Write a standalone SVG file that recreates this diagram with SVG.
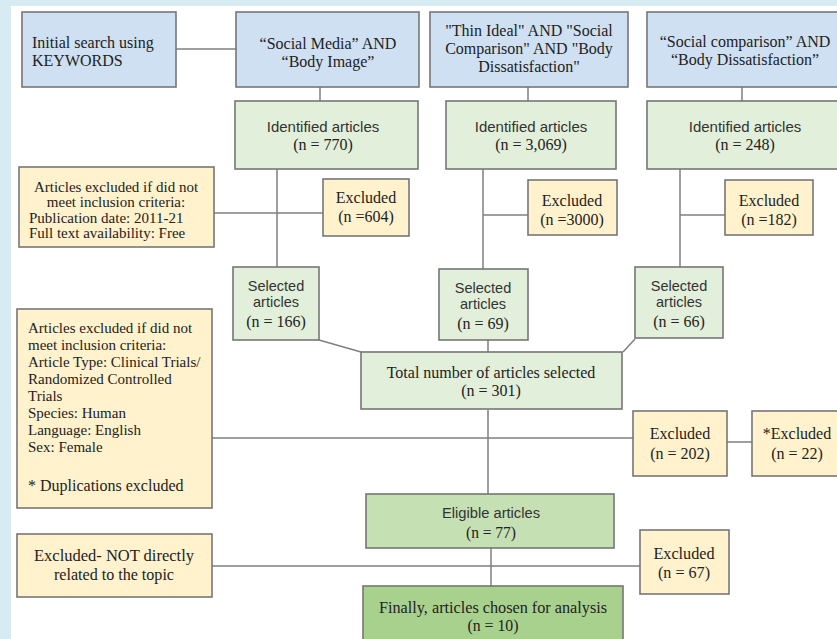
<svg xmlns="http://www.w3.org/2000/svg" width="837" height="639" viewBox="0 0 837 639">
<style>
.bx{stroke:#767676;stroke-width:1.6}
.blue{fill:#cfe0f2}
.lg{fill:#e2efda}
.yl{fill:#fff2cc}
.eg{fill:#c5e0b3}
.fg{fill:#a9d18e}
.s{font-family:"Liberation Serif","Times New Roman",serif;font-size:16px;fill:#222}
.m{font-size:15px}
.a{font-family:"Liberation Sans",Arial,sans-serif;font-size:14.5px;fill:#333}
.c{text-anchor:middle}
.ln{stroke:#7f7f7f;stroke-width:1.5;fill:none}
</style>
<rect x="0" y="0" width="837" height="639" fill="#d6ebf2"/>
<rect x="11" y="6" width="826" height="633" fill="#ffffff"/>

<g id="connectors">
<path class="ln" d="M176 49H236"/>
<path class="ln" d="M320 87V101"/>
<path class="ln" d="M528 87V101"/>
<path class="ln" d="M742 87V101"/>
<path class="ln" d="M277 169V267"/>
<path class="ln" d="M214 213H323"/>
<path class="ln" d="M483 169V269"/>
<path class="ln" d="M483 215H528"/>
<path class="ln" d="M680 169V267"/>
<path class="ln" d="M680 215H725"/>
<path class="ln" d="M319 340L361 352"/>
<path class="ln" d="M488 340V352"/>
<path class="ln" d="M635 339L623 352"/>
<path class="ln" d="M488 410V494"/>
<path class="ln" d="M212 438H633"/>
<path class="ln" d="M727 442H752"/>
<path class="ln" d="M491 548V586"/>
<path class="ln" d="M212 566H640"/>
</g>

<g id="n-initial"><rect class="bx blue" x="22" y="12" width="154" height="75"/>
<text class="s" x="32" y="48">Initial search using</text><text class="s" x="32" y="66">KEYWORDS</text></g>

<g id="n-sm"><rect class="bx blue" x="236" y="12" width="183" height="75"/>
<text class="s c" x="328" y="49">“Social Media” AND</text><text class="s c" x="328" y="67">“Body Image”</text></g>

<g id="n-thin"><rect class="bx blue" x="430" y="12" width="198" height="75"/>
<text class="s c" x="529" y="36">"Thin Ideal" AND "Social</text><text class="s c" x="529" y="54">Comparison" AND "Body</text><text class="s c" x="529" y="72">Dissatisfaction"</text></g>

<g id="n-sc"><rect class="bx blue" x="647" y="12" width="200" height="75"/>
<text class="s c" x="745" y="47">“Social comparison” AND</text><text class="s c" x="745" y="65">“Body Dissatisfaction”</text></g>

<g id="n-id1"><rect class="bx lg" x="235" y="101" width="183" height="68"/>
<text class="a c" x="323" y="132" style="font-size:15px">Identified articles</text><text class="s c" x="323" y="150">(n = 770)</text></g>

<g id="n-id2"><rect class="bx lg" x="446" y="101" width="170" height="68"/>
<text class="a c" x="531" y="132" style="font-size:15px">Identified articles</text><text class="s c" x="531" y="150">(n = 3,069)</text></g>

<g id="n-id3"><rect class="bx lg" x="647" y="101" width="200" height="68"/>
<text class="a c" x="745" y="132" style="font-size:15px">Identified articles</text><text class="s c" x="745" y="150">(n = 248)</text></g>

<g id="n-crit1"><rect class="bx yl" x="19" y="167" width="195" height="80"/>
<text class="s m c" x="116" y="192">Articles excluded if did not</text>
<text class="s m c" x="116" y="207">meet inclusion criteria:</text>
<text class="s m" x="29" y="223">Publication date: 2011-21</text>
<text class="s m" x="29" y="238">Full text availability: Free</text></g>

<g id="n-ex604"><rect class="bx yl" x="323" y="179" width="86" height="57"/>
<text class="s c" x="366" y="203">Excluded</text><text class="s c" x="366" y="222">(n =604)</text></g>

<g id="n-ex3000"><rect class="bx yl" x="528" y="180" width="89" height="55"/>
<text class="s c" x="572" y="206">Excluded</text><text class="s c" x="572" y="225">(n =3000)</text></g>

<g id="n-ex182"><rect class="bx yl" x="725" y="180" width="88" height="55"/>
<text class="s c" x="769" y="206">Excluded</text><text class="s c" x="769" y="225">(n =182)</text></g>

<g id="n-sel1"><rect class="bx lg" x="233" y="267" width="86" height="73"/>
<text class="a c" x="276" y="291">Selected</text><text class="a c" x="276" y="307">articles</text><text class="s c" x="276" y="327">(n = 166)</text></g>

<g id="n-sel2"><rect class="bx lg" x="439" y="269" width="89" height="71"/>
<text class="a c" x="483" y="293">Selected</text><text class="a c" x="483" y="309">articles</text><text class="s c" x="483" y="329">(n = 69)</text></g>

<g id="n-sel3"><rect class="bx lg" x="635" y="267" width="88" height="71"/>
<text class="a c" x="679" y="291">Selected</text><text class="a c" x="679" y="307">articles</text><text class="s c" x="679" y="327">(n = 66)</text></g>

<g id="n-total"><rect class="bx lg" x="361" y="352" width="261" height="57"/>
<text class="s c" x="491" y="378">Total number of articles selected</text><text class="s c" x="491" y="396">(n = 301)</text></g>

<g id="n-crit2"><rect class="bx yl" x="17" y="309" width="195" height="199"/>
<text class="s m" x="28" y="333">Articles excluded if did not</text>
<text class="s m" x="28" y="350">meet inclusion criteria:</text>
<text class="s m" x="28" y="367">Article Type: Clinical Trials/</text>
<text class="s m" x="28" y="384">Randomized Controlled</text>
<text class="s m" x="28" y="401">Trials</text>
<text class="s m" x="28" y="418">Species: Human</text>
<text class="s m" x="28" y="435">Language: English</text>
<text class="s m" x="28" y="452">Sex: Female</text>
<text class="s" x="28" y="491">* Duplications excluded</text></g>

<g id="n-ex202"><rect class="bx yl" x="633" y="411" width="94" height="65"/>
<text class="s c" x="680" y="439">Excluded</text><text class="s c" x="680" y="459">(n = 202)</text></g>

<g id="n-ex22"><rect class="bx yl" x="752" y="411" width="95" height="65"/>
<text class="s c" x="797" y="439">*Excluded</text><text class="s c" x="797" y="459">(n = 22)</text></g>

<g id="n-elig"><rect class="bx eg" x="366" y="494" width="248" height="54"/>
<text class="a c" x="491" y="518" style="font-size:14px" textLength="98" lengthAdjust="spacingAndGlyphs">Eligible articles</text><text class="s c" x="491" y="538" textLength="50" lengthAdjust="spacingAndGlyphs">(n = 77)</text></g>

<g id="n-exnot"><rect class="bx yl" x="17" y="534" width="195" height="63"/>
<text class="s c" x="114" y="561" textLength="160" lengthAdjust="spacingAndGlyphs">Excluded- NOT directly</text><text class="s c" x="114" y="580" textLength="120" lengthAdjust="spacingAndGlyphs">related to the topic</text></g>

<g id="n-ex67"><rect class="bx yl" x="640" y="530" width="89" height="64"/>
<text class="s c" x="684" y="559" textLength="61" lengthAdjust="spacingAndGlyphs">Excluded</text><text class="s c" x="684" y="578" textLength="52" lengthAdjust="spacingAndGlyphs">(n = 67)</text></g>

<g id="n-final"><rect class="bx fg" x="363" y="586" width="260" height="60"/>
<text class="s c" x="493" y="613" textLength="228" lengthAdjust="spacingAndGlyphs">Finally, articles chosen for analysis</text><text class="s c" x="493" y="631" textLength="51" lengthAdjust="spacingAndGlyphs">(n = 10)</text></g>
</svg>
